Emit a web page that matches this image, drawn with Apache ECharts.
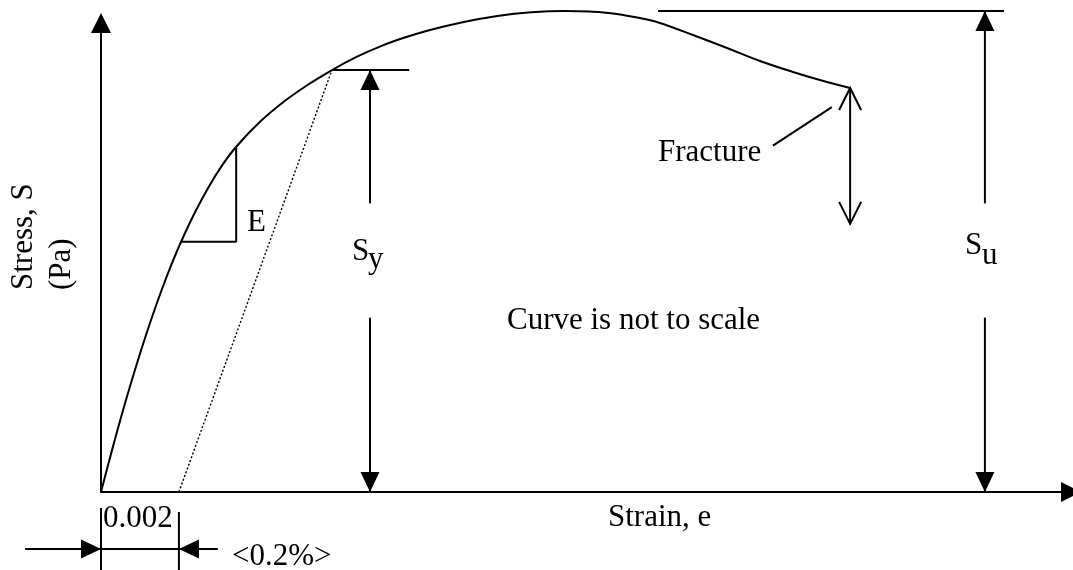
<!DOCTYPE html>
<html lang="en">
  <head>
    <meta charset="UTF-8" />
    <meta name="viewport" content="width=device-width, initial-scale=1.0" />
    <title>Stress-strain curve</title>
    <script src="https://cdn.jsdelivr.net/npm/echarts@6.0.0/dist/echarts.min.js"></script>
    <style>
      body { margin: 0; background: #fff; }
    </style>
  </head>
  <body>
    <div id="main" style="width: 1073px; height: 570px"></div>
    <script type="text/javascript">
      // schematic curve: strain in %, stress in MPa (not to scale)
      const strain = [0, 0.0257, 0.0513, 0.077, 0.1027, 0.1284, 0.154, 0.1797, 0.2053,
        0.2407, 0.276, 0.3113, 0.3465, 0.4082, 0.4698, 0.5314, 0.5929,
        0.6559, 0.7188, 0.7816, 0.8445, 0.9312, 1.0178, 1.1045, 1.1911,
        1.2553, 1.3143, 1.4016, 1.4349, 1.5196, 1.6069, 1.6916, 1.7763, 1.8636, 1.9227];
      const stress = [0, 31.7, 62, 90.6, 117.7, 143, 166.5, 188.2, 207.9,
        232.2, 253.5, 271.8, 286.9, 307.8, 324.7, 338.7, 350.9,
        361.8, 370.8, 378.1, 384.2, 390.9, 395.9, 398.9, 400,
        399.5, 397.9, 392.9, 390, 380, 369.2, 358.4, 349.3, 340.9, 336];

      const offsetStrain = 0.2;          // 0.2 % offset
      const yieldPoint = [0.593, 351];   // Sy
      const ultimate = 400;              // Su
      const fracture = [1.923, 336];

      // modulus triangle (E)
      const modulusTri = [[0.205, 208], [0.347, 208], [0.347, 287]];
      // level lines for Sy and Su
      const syLevel = [yieldPoint, [0.791, 351]];
      const suLevel = [[1.430, ultimate], [2.318, ultimate]];

      // arrows: [x1, y1, x2, y2], head drawn at the second point
      const arrows = [
        [0.6905, 240, 0.6905, yieldPoint[1]],
        [0.6905, 145, 0.6905, 0],
        [2.269, 240, 2.269, ultimate],
        [2.269, 145, 2.269, 0],
        [fracture[0], 223, fracture[0], fracture[1]],
        [-0.195, -47.4, 0, -47.4],
        [0.300, -47.4, offsetStrain, -47.4],
        [0, -47.4, offsetStrain, -47.4],
        [0, -13.3, 0, -65],
        [offsetStrain, -16.6, offsetStrain, -65],
        [1.725, 288, 1.876, 320]
      ];
      const arrowHeads = ['solid', 'solid', 'solid', 'solid', 'open', 'solid', 'solid',
        'none', 'none', 'none', 'none'];

      const FONT = '31px "Liberation Serif", "Times New Roman", serif';
      // [text, x, y(middle), rotation]
      const texts = [
        ['Curve is not to scale', 507, 321, 0],
        ['Strain, e', 608, 518, 0],
        ['Fracture', 658, 153, 0],
        ['0.002', 103, 519, 0],
        ['<0.2%>', 232, 557, 0],
        ['E', 247, 223, 0],
        ['S', 352, 252, 0],
        ['y', 368, 260, 0],
        ['S', 965, 246, 0],
        ['u', 982, 256, 0],
        ['Stress, S', 24, 290, Math.PI / 2],
        ['(Pa)', 62, 290, Math.PI / 2]
      ];

      function solidHead(from, tip) {
        const dx = tip[0] - from[0], dy = tip[1] - from[1];
        const len = Math.hypot(dx, dy);
        const ux = dx / len, uy = dy / len;
        const bx = tip[0] - ux * 20, by = tip[1] - uy * 20;
        return {
          type: 'polygon',
          shape: { points: [tip, [bx - uy * 9.5, by + ux * 9.5], [bx + uy * 9.5, by - ux * 9.5]] },
          style: { fill: '#000' }
        };
      }

      function openHead(from, tip) {
        const dx = tip[0] - from[0], dy = tip[1] - from[1];
        const len = Math.hypot(dx, dy);
        const ux = dx / len, uy = dy / len;
        const bx = tip[0] - ux * 22, by = tip[1] - uy * 22;
        return {
          type: 'polyline',
          shape: { points: [[bx - uy * 11, by + ux * 11], tip, [bx + uy * 11, by - ux * 11]] },
          style: { stroke: '#000', lineWidth: 2, fill: null }
        };
      }

      function renderArrow(params, api) {
        const p1 = api.coord([api.value(0), api.value(1)]);
        const p2 = api.coord([api.value(2), api.value(3)]);
        const head = arrowHeads[params.dataIndex];
        const children = [{
          type: 'line',
          shape: { x1: p1[0], y1: p1[1], x2: p2[0], y2: p2[1] },
          style: { stroke: '#000', lineWidth: 2 }
        }];
        if (head === 'solid') children.push(solidHead(p1, p2));
        if (head === 'open') {
          children.push(openHead(p1, p2));
          children.push(openHead(p2, p1));
        }
        return { type: 'group', children: children };
      }

      const blackLine = { color: '#000', width: 2 };

      let myChart = echarts.init(document.getElementById('main'));

      let options = {
        backgroundColor: '#fff',
        animation: false,
        grid: { left: 101, top: 23, width: 970, height: 469, outerBoundsMode: 'none' },
        xAxis: {
          type: 'value', min: 0, max: 2.49,
          axisLine: { show: true, onZero: false, symbol: ['none', 'triangle'], symbolSize: [20, 20], lineStyle: blackLine },
          axisTick: { show: false }, axisLabel: { show: false }, splitLine: { show: false }
        },
        yAxis: {
          type: 'value', min: 0, max: 390,
          axisLine: { show: true, onZero: false, symbol: ['none', 'triangle'], symbolSize: [20, 20], lineStyle: blackLine },
          axisTick: { show: false }, axisLabel: { show: false }, splitLine: { show: false }
        },
        graphic: texts.map((t) => ({
          type: 'text', x: t[1], y: t[2], rotation: t[3],
          style: {
            text: t[0], font: FONT, fill: '#000',
            textAlign: 'left', textVerticalAlign: 'middle', align: 'left', verticalAlign: 'middle'
          }
        })),
        series: [
          {
            name: 'curve', type: 'line', smooth: 0.4, showSymbol: false, clip: false,
            data: strain.map((s, i) => [s, stress[i]]),
            lineStyle: blackLine
          },
          {
            name: 'offset', type: 'line', showSymbol: false, clip: false,
            data: [[offsetStrain, 0], yieldPoint],
            lineStyle: { color: '#000', width: 1.4, type: [2, 2] }
          },
          {
            name: 'modulus', type: 'line', showSymbol: false, clip: false,
            data: modulusTri, lineStyle: blackLine
          },
          {
            name: 'Sy', type: 'line', showSymbol: false, clip: false,
            data: syLevel, lineStyle: blackLine
          },
          {
            name: 'Su', type: 'line', showSymbol: false, clip: false,
            data: suLevel, lineStyle: blackLine
          },
          {
            name: 'arrows', type: 'custom', clip: false,
            renderItem: renderArrow,
            data: arrows
          }
        ]
      };

      myChart.setOption(options);
    </script>
  </body>
</html>
